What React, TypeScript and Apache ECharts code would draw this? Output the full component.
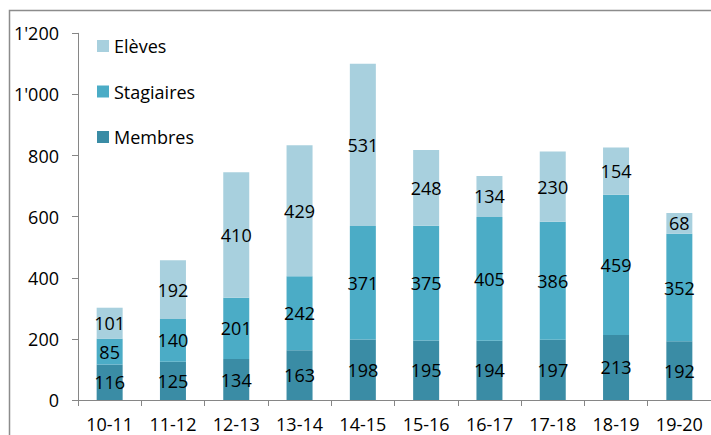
import React, { useEffect, useRef } from "react";
import * as echarts from "echarts";

const categories = ["10-11", "11-12", "12-13", "13-14", "14-15", "15-16", "16-17", "17-18", "18-19", "19-20"];
const membres = [116, 125, 134, 163, 198, 195, 194, 197, 213, 192];
const stagiaires = [85, 140, 201, 242, 371, 375, 405, 386, 459, 352];
const eleves = [101, 192, 410, 429, 531, 248, 134, 230, 154, 68];

const FONT = "Open Sans";
const AXIS_COLOR = "#868686";

export default function App() {
  const ref = useRef<HTMLDivElement>(null);
  useEffect(() => {
    if (!ref.current) return;
    const chart = echarts.init(ref.current, undefined, { renderer: "svg" });
    const label = {
      show: true,
      position: "inside",
      color: "#000",
      fontFamily: FONT,
      fontSize: 18,
    };
    const mk = (name: string, data: number[], color: string) => ({
      name,
      type: "bar",
      stack: "total",
      data,
      barWidth: 26,
      itemStyle: { color },
      label,
    });
    chart.setOption({
      animation: false,
      backgroundColor: "#fff",
      textStyle: { fontFamily: FONT },
      graphic: [
        {
          type: "rect",
          shape: { x: 9.5, y: 10.5, width: 900, height: 900 },
          style: { fill: "none", stroke: "#8c8c8c", lineWidth: 1.5 },
          silent: true,
        },
      ],
      legend: {
        orient: "vertical",
        left: 92,
        top: 32,
        itemWidth: 12,
        itemHeight: 12,
        itemGap: 27.5,
        icon: "rect",
        data: ["Elèves", "Stagiaires", "Membres"],
        textStyle: { fontFamily: FONT, fontSize: 18, color: "#000" },
      },
      grid: { left: 78, top: 33.3, bottom: 35, right: -5, containLabel: false },
      xAxis: {
        type: "category",
        data: categories,
        axisLine: { lineStyle: { color: AXIS_COLOR } },
        axisTick: { show: true, length: 6, lineStyle: { color: AXIS_COLOR } },
        axisLabel: { color: "#000", fontFamily: FONT, fontSize: 18, margin: 15 },
      },
      yAxis: {
        type: "value",
        min: 0,
        max: 1200,
        interval: 200,
        splitLine: { show: false },
        axisLine: { show: true, lineStyle: { color: AXIS_COLOR } },
        axisTick: { show: true, length: 6, lineStyle: { color: AXIS_COLOR } },
        axisLabel: {
          color: "#000",
          fontFamily: FONT,
          fontSize: 18,
          margin: 19,
          formatter: (v: number) => String(v).replace(/\B(?=(\d{3})+(?!\d))/g, "'"),
        },
      },
      series: [
        mk("Membres", membres, "#3a8ca5"),
        mk("Stagiaires", stagiaires, "#4bacc6"),
        mk("Elèves", eleves, "#a8d0de"),
      ],
    });
    return () => chart.dispose();
  }, []);
  return <div ref={ref} style={{ position: "absolute", left: 0, top: 0, width: 711, height: 435 }} />;
}
